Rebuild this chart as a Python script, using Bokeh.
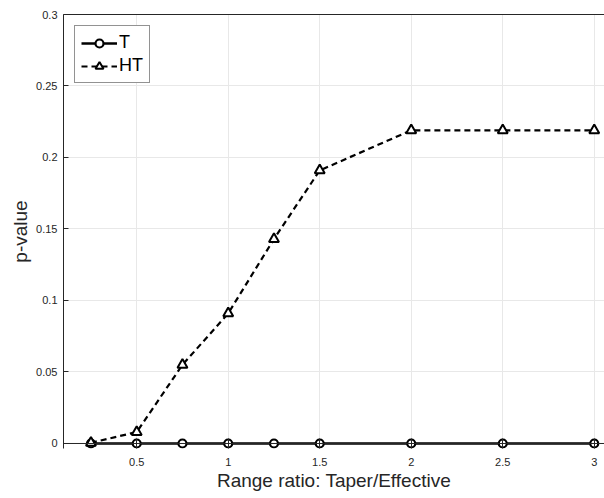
from bokeh.plotting import figure
from bokeh.models import FixedTicker, CustomJSTickFormatter, Legend, LegendItem, Range1d, LinearAxis, Span
from bokeh.embed import file_html
from bokeh.resources import INLINE

ratio = [0.25, 0.5, 0.75, 1.0, 1.25, 1.5, 2.0, 2.5, 3.0]
p_T = [0, 0, 0, 0, 0, 0, 0, 0, 0]
p_HT = [0.0005, 0.008, 0.055, 0.091, 0.143, 0.191, 0.219, 0.219, 0.219]
x_ticks = [0.5, 1, 1.5, 2, 2.5, 3]
y_ticks = [0, 0.05, 0.1, 0.15, 0.2, 0.25, 0.3]

FONT = "Liberation Sans"
DARK = "#262626"

p = figure(width=604, height=498, output_backend="svg", toolbar_location=None,
           x_range=Range1d(0.1, 3.056), y_range=Range1d(-0.0035, 0.3),
           min_border_left=63, min_border_right=0, min_border_top=14, min_border_bottom=50)

p.background_fill_color = "white"
p.border_fill_color = "white"
p.outline_line_color = None

for ax in (p.xaxis[0], p.yaxis[0]):
    ax.axis_line_color = DARK
    ax.major_tick_line_color = DARK
    ax.major_tick_in = 5
    ax.major_tick_out = 0
    ax.minor_tick_in = 0
    ax.minor_tick_out = 0
    ax.major_label_text_font = FONT
    ax.major_label_text_font_size = "11px"
    ax.major_label_text_color = DARK
    ax.axis_label_text_font = FONT
    ax.axis_label_text_font_size = "19px"
    ax.axis_label_text_font_style = "normal"
    ax.axis_label_text_color = DARK
    ax.formatter = CustomJSTickFormatter(code="return String(Math.round(tick*100)/100);")

p.xaxis.ticker = FixedTicker(ticks=x_ticks)
p.yaxis.ticker = FixedTicker(ticks=y_ticks)
p.xaxis.axis_line_color = None
p.xaxis.major_tick_in = 10
p.xaxis.axis_label = "Range ratio: Taper/Effective"
p.yaxis.axis_label = "p-value"
p.xaxis.major_label_standoff = 9
p.yaxis.major_label_standoff = 6
p.xaxis.axis_label_standoff = 1
p.yaxis.axis_label_standoff = 2

top_axis = LinearAxis(ticker=FixedTicker(ticks=[]), axis_line_color=DARK,
                      major_tick_in=0, major_tick_out=0, minor_tick_in=0, minor_tick_out=0)
p.add_layout(top_axis, "above")

# x-axis line drawn at p = 0
p.add_layout(Span(location=0, dimension="width", line_color=DARK, line_width=1))

p.xgrid.ticker = FixedTicker(ticks=x_ticks)
p.ygrid.ticker = FixedTicker(ticks=y_ticks)
p.grid.grid_line_color = "#e8e8e8"
p.grid.grid_line_width = 1

lT = p.line(ratio, p_T, line_color="black", line_width=2.4)
sT = p.scatter(ratio, p_T, marker="circle", size=8, line_color="black", line_width=2.2, fill_color="white")
lH = p.line(ratio, p_HT, line_color="black", line_width=2.2, line_dash="6 4")
sH = p.scatter(ratio, p_HT, marker="triangle", size=10, line_color="black", line_width=2, fill_color="white")

legend = Legend(items=[LegendItem(label="T", renderers=[lT, sT]),
                       LegendItem(label="HT", renderers=[lH, sH])],
                location="top_left")
legend.margin = 11
legend.padding = 6
legend.spacing = 2
legend.glyph_width = 36
legend.glyph_height = 20
legend.label_standoff = 2
legend.label_text_font = FONT
legend.label_text_font_size = "18px"
legend.label_text_color = "black"
legend.border_line_color = DARK
legend.border_line_width = 1
legend.background_fill_color = "white"
legend.background_fill_alpha = 1
p.add_layout(legend)

open("out.html", "w").write(file_html(p, INLINE))
